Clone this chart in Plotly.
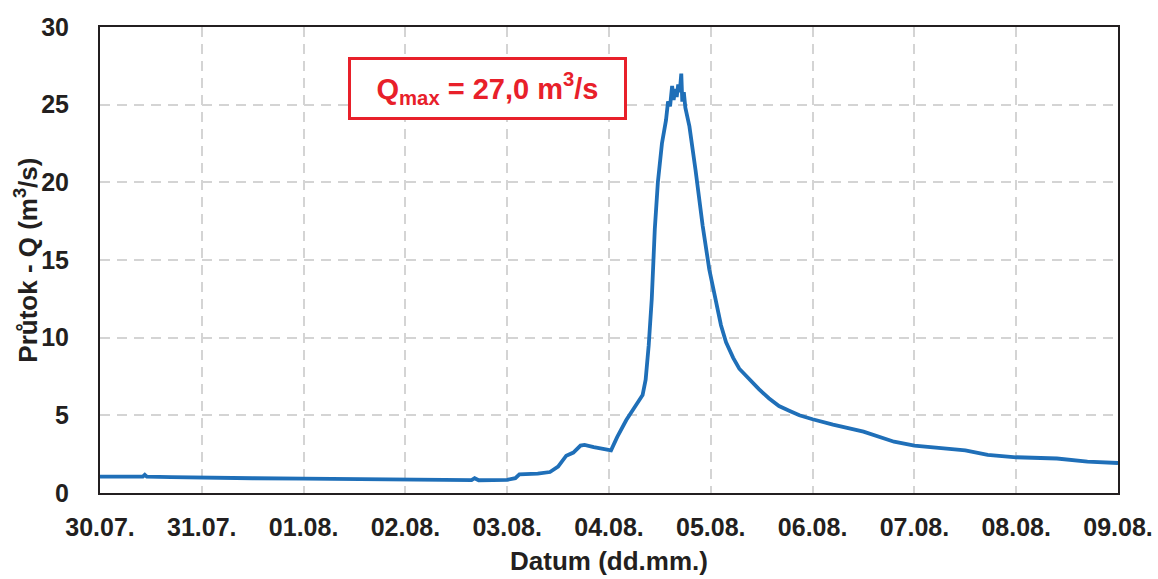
import pandas as pd
import plotly.graph_objects as go

# Day offsets from 30.07. 00:00 and discharge values (m3/s)
day_offsets = [0, 0.2, 0.42, 0.44, 0.46, 0.7, 1.0, 1.5, 2.0, 2.5, 3.0, 3.3, 3.65, 3.68, 3.72,
               4.0, 4.08, 4.12, 4.3, 4.42, 4.5, 4.58, 4.65, 4.72, 4.76, 4.85, 4.95, 5.02, 5.08,
               5.17, 5.25, 5.33, 5.36, 5.39, 5.42, 5.45, 5.48, 5.52, 5.56, 5.58, 5.6, 5.62,
               5.635, 5.65, 5.665, 5.68, 5.695, 5.71, 5.72, 5.735, 5.75, 5.79, 5.85, 5.92,
               5.985, 6.05, 6.1, 6.15, 6.22, 6.28, 6.35, 6.47, 6.57, 6.67, 6.77, 6.87, 7.0,
               7.2, 7.5, 7.8, 8.0, 8.3, 8.5, 8.72, 9.0, 9.4, 9.7, 10.0]
discharge = [1.05, 1.05, 1.05, 1.17, 1.05, 1.02, 0.98, 0.95, 0.92, 0.9, 0.85, 0.85, 0.83, 0.95, 0.82,
             0.85, 0.95, 1.2, 1.25, 1.35, 1.7, 2.4, 2.6, 3.05, 3.1, 2.95, 2.8, 2.75, 3.6,
             4.7, 5.5, 6.3, 7.3, 9.5, 12.5, 17.0, 20.0, 22.5, 24.0, 25.2, 24.9, 26.2,
             25.3, 26.0, 25.5, 26.3, 25.8, 27.0, 25.2, 25.8, 24.8, 23.6, 20.8, 17.2,
             14.4, 12.3, 10.8, 9.7, 8.7, 8.0, 7.5, 6.7, 6.1, 5.6, 5.3, 5.0, 4.75,
             4.4, 3.95, 3.3, 3.05, 2.9, 2.75, 2.45, 2.3, 2.22, 2.02, 1.93]

start_date = "2021-07-30"
end_date = "2021-08-09"
y_ticks = [0, 5, 10, 15, 20, 25, 30]

times = pd.Timestamp(start_date) + pd.to_timedelta(day_offsets, unit="D")

fig = go.Figure()
fig.add_trace(go.Scatter(x=times, y=discharge, mode="lines",
                         line=dict(color="#1f6fb8", width=3.8), showlegend=False))

font_family = "Liberation Sans, Arial, sans-serif"
fig.update_layout(
    width=1158, height=579,
    margin=dict(l=100, r=40, t=27, b=86),
    paper_bgcolor="white", plot_bgcolor="white",
    font=dict(family=font_family, color="#231f20"),
    xaxis=dict(
        type="date", range=[start_date, end_date], automargin=False,
        dtick=86400000, tick0=start_date, tickformat="%d.%m.",
        tickfont=dict(size=25, weight="bold", color="#231f20"),
        showgrid=True, gridcolor="#d4d4d4", gridwidth=1.5, griddash="10px,7px",
        showline=True, linecolor="#231f20", linewidth=2, mirror=True,
        ticks="", ticklabelstandoff=11,
        title=dict(text="Datum (dd.mm.)", font=dict(size=26, weight="bold"), standoff=12),
        zeroline=False,
    ),
    yaxis=dict(
        range=[0, 30], tickvals=y_ticks, automargin=False,
        tickfont=dict(size=25, weight="bold", color="#231f20"),
        showgrid=True, gridcolor="#d4d4d4", gridwidth=1.5, griddash="10px,7px",
        showline=True, linecolor="#231f20", linewidth=2, mirror=True,
        ticks="", ticklabelstandoff=24,
        zeroline=False,
    ),
)

# Y-axis title placed as a rotated annotation to match its position in the reference
fig.add_annotation(
    xref="paper", yref="paper", x=-0.073, y=0.5, xanchor="center", yanchor="middle",
    text="Průtok - Q (m<sup>3</sup>/s)", textangle=-90, showarrow=False,
    font=dict(size=26, weight="bold", family=font_family, color="#231f20"),
)

fig.add_annotation(
    xref="paper", yref="paper", x=0.381, y=0.869, xanchor="center", yanchor="middle",
    text="Q<sub>max</sub> = 27,0 m<sup>3</sup>/s", showarrow=False,
    font=dict(size=29, color="#e8202a", weight="bold", family=font_family),
    bordercolor="#e8202a", borderwidth=3, bgcolor="white",
    width=269, height=53, borderpad=2,
)

fig.write_html("out.html")
